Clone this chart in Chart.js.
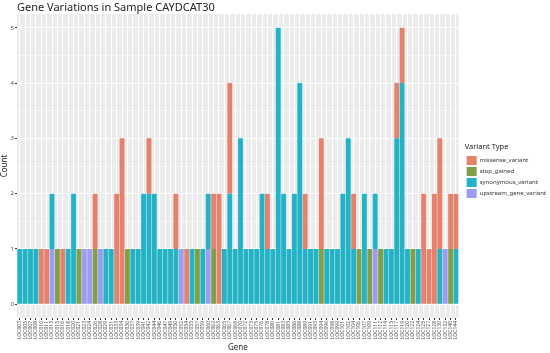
<!DOCTYPE html>
<html>
<head>
<meta charset="utf-8">
<script src="https://cdn.jsdelivr.net/npm/chart.js@4/dist/chart.umd.min.js"></script>
<style>
  html, body { margin: 0; padding: 0; background: #fff; }
  #wrap { width: 550px; height: 353px; position: relative; }
</style>
</head>
<body>
<div id="wrap"><canvas id="chart"></canvas></div>
<script>
// gene ids (x categories)
const geneNums = [3, 5, 7, 8, 10, 11, 13, 15, 16, 18, 20, 21, 23, 24, 26, 28, 29, 31, 33, 34,
  36, 37, 39, 41, 42, 44, 46, 47, 49, 50, 52, 54, 55, 57, 59, 60, 62, 63, 65, 67,
  68, 70, 72, 73, 75, 76, 78, 80, 81, 83, 85, 86, 88, 89, 91, 93, 94, 96, 98, 99,
  101, 102, 104, 106, 107, 109, 111, 112, 114, 115, 117, 119, 120, 122, 124, 125, 127, 128, 130, 132,
  140, 144];
const genes = geneNums.map(n => "LOC" + String(n).padStart(3, "0"));

// counts per gene for each variant type
const upstream = [0, 0, 0, 0, 0, 0, 1, 0, 0, 0, 0, 0, 1, 1, 0, 1, 0, 0, 0, 0,
  0, 0, 0, 0, 0, 0, 0, 0, 0, 0, 1, 0, 0, 0, 0, 1, 0, 0, 0, 0,
  0, 0, 0, 0, 0, 0, 0, 0, 0, 0, 0, 0, 0, 0, 0, 0, 0, 0, 0, 0,
  0, 0, 0, 0, 0, 0, 1, 0, 0, 0, 0, 0, 0, 0, 0, 0, 0, 0, 0, 1,
  0, 0];
const synonymous = [1, 1, 1, 1, 0, 0, 1, 0, 0, 1, 2, 0, 0, 0, 0, 0, 1, 1, 0, 0,
  0, 1, 1, 2, 2, 2, 1, 1, 1, 1, 0, 0, 1, 0, 1, 1, 0, 0, 1, 2,
  1, 3, 1, 1, 1, 2, 1, 1, 5, 2, 1, 2, 4, 1, 1, 1, 0, 1, 1, 1,
  2, 3, 1, 0, 2, 0, 1, 0, 1, 1, 3, 4, 1, 0, 1, 0, 0, 0, 1, 0,
  0, 1];
const stopGained = [0, 0, 0, 0, 0, 0, 0, 1, 0, 0, 0, 1, 0, 0, 1, 0, 0, 0, 0, 0,
  1, 0, 0, 0, 0, 0, 0, 0, 0, 0, 0, 0, 0, 1, 0, 0, 1, 0, 0, 0,
  0, 0, 0, 0, 0, 0, 0, 0, 0, 0, 0, 0, 0, 0, 0, 0, 1, 0, 0, 0,
  0, 0, 0, 1, 0, 1, 0, 1, 0, 0, 0, 0, 0, 1, 0, 0, 0, 0, 0, 0,
  1, 0];
const missense = [0, 0, 0, 0, 1, 1, 0, 0, 1, 0, 0, 0, 0, 0, 1, 0, 0, 0, 2, 3,
  0, 0, 0, 0, 1, 0, 0, 0, 0, 1, 0, 1, 0, 0, 0, 0, 1, 2, 0, 2,
  0, 0, 0, 0, 0, 0, 1, 0, 0, 0, 0, 0, 0, 1, 0, 0, 2, 0, 0, 0,
  0, 0, 1, 0, 0, 0, 0, 0, 0, 0, 1, 1, 0, 0, 0, 2, 1, 2, 2, 0,
  1, 1];

const yTicks = [0, 1, 2, 3, 4, 5];

// ggplot-ish grey panel + title, and nudge the legend to where ggplot puts it
const panelBg = {
  id: "panelBg",
  afterLayout(chart) {
    const lg = chart.legend;
    const dx = 6, dy = -12;
    lg.left += dx; lg.right += dx; lg.top += dy; lg.bottom += dy;
    lg.legendHitBoxes.forEach(h => { h.left += dx; h.top += dy; });
  },
  beforeDraw(chart) {
    const { ctx, chartArea: a } = chart;
    ctx.save();
    ctx.fillStyle = "#EBEBEB";
    ctx.fillRect(a.left, a.top, a.right - a.left, a.bottom - a.top);
    ctx.restore();
  },
  afterDraw(chart) {
    const { ctx, chartArea: a } = chart;
    ctx.save();
    ctx.fillStyle = "#222";
    ctx.font = "11px 'Noto Sans'";
    ctx.textBaseline = "alphabetic";
    ctx.fillText("Gene Variations in Sample CAYDCAT30", a.left, 11);
    ctx.restore();
  }
};

new Chart(document.getElementById("chart"), {
  type: "bar",
  data: {
    labels: genes,
    datasets: [
      { label: "upstream_gene_variant", data: upstream, backgroundColor: "#9C9CF2" },
      { label: "synonymous_variant", data: synonymous, backgroundColor: "#22B4C6" },
      { label: "stop_gained", data: stopGained, backgroundColor: "#7FA046" },
      { label: "missense_variant", data: missense, backgroundColor: "#E5826C" }
    ]
  },
  options: {
    responsive: true,
    maintainAspectRatio: false,
    animation: false,
    layout: { padding: { top: 14, left: 0, right: 0, bottom: 0 } },
    datasets: { bar: { categoryPercentage: 0.9, barPercentage: 1, borderWidth: 0 } },
    scales: {
      x: {
        stacked: true,
        grid: { color: "#FFFFFF", lineWidth: 1, offset: false, drawTicks: true, tickLength: 2, tickColor: "#333" },
        border: { display: false },
        ticks: {
          autoSkip: false, minRotation: 90, maxRotation: 90, padding: 1,
          color: "#4D4D4D", font: { size: 5, family: "'Noto Sans'" }
        },
        title: { display: true, text: "Gene", color: "#222", padding: 0, font: { size: 8, family: "'Noto Sans'" } },
        afterFit(s) { s.height = 35; }
      },
      y: {
        stacked: true,
        min: -0.25,
        max: 5.25,
        afterBuildTicks(s) {
          const t = [];
          for (let v = 0; v <= 5; v += 0.5) t.push({ value: v });
          s.ticks = t;
        },
        grid: {
          color: "#FFFFFF",
          lineWidth: c => (c.tick && Number.isInteger(c.tick.value)) ? 1 : 0.5,
          tickLength: 2,
          tickColor: c => (c.tick && Number.isInteger(c.tick.value)) ? "#333" : "rgba(0,0,0,0)"
        },
        border: { display: false },
        ticks: {
          padding: 1,
          color: "#4D4D4D",
          font: { size: 6, family: "'Noto Sans'" },
          callback: v => yTicks.includes(v) ? String(v) : ""
        },
        title: { display: true, text: "Count", color: "#222", padding: 0, font: { size: 8, family: "'Noto Sans'" } },
        afterFit(s) { s.width = 17; }
      }
    },
    plugins: {
      legend: {
        position: "right",
        align: "center",
        reverse: true,
        title: { display: true, position: "start", text: "Variant Type", color: "#222", font: { size: 7.5, family: "'Noto Sans'" }, padding: { top: 0, bottom: 2 } },
        labels: {
          boxWidth: 10, boxHeight: 9, padding: 2,
          color: "#333", font: { size: 6, family: "'Noto Sans'" }
        }
      },
      tooltip: { enabled: false }
    }
  },
  plugins: [panelBg]
});
</script>
</body>
</html>
